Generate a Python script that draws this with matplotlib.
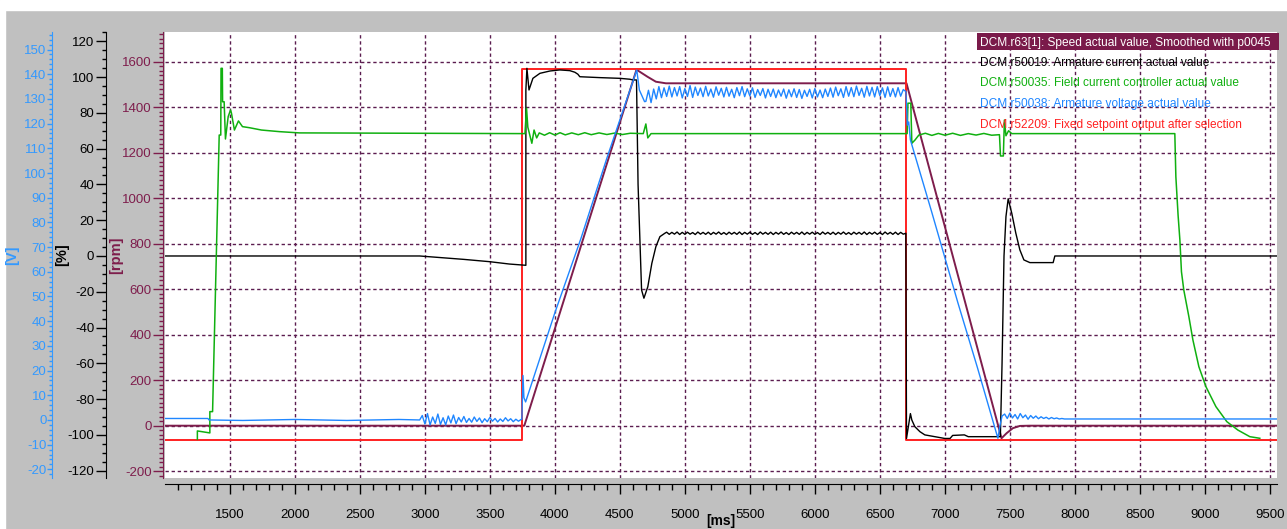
import numpy as np
import matplotlib.pyplot as plt
from matplotlib.ticker import MultipleLocator
from matplotlib.patches import Rectangle

plt.rcParams['font.family'] = ['Liberation Sans', 'DejaVu Sans']
plt.rcParams['axes.unicode_minus'] = False

# ---- trace data, time in ms ----
# DCM.r63[1] speed [rpm]
speed_pts = [(1001, 0), (3765, 0), (4628, 1565), (4712, 1534), (4777, 1512), (4854, 1505),
             (6705, 1505), (7436, -55), (7475, -33), (7523, -11), (7577, -1), (7650, 0), (9555, 0)]

# DCM.r52209 fixed setpoint [rpm scale]
setpoint_pts = [(1001, -61), (3750, -61), (3750, 1567), (6700, 1567), (6700, -61), (9555, -61)]

# DCM.r50035 field current [%]
field_pts = [
    (1250, -102.5), (1250, -97.8), (1346, -98.9), (1346, -87.0), (1367, -87.0),
    (1418, 67.6), (1430, 67.6), (1432, 104.9), (1442, 104.9), (1444, 86.2), (1456, 86.2),
    (1466, 65.4), (1487, 77.9), (1505, 81.6), (1512, 79.9), (1535, 70.4), (1566, 75.5),
    (1597, 72.3), (1651, 71.7), (1743, 70.4), (1882, 69.5), (2035, 68.8), (3770, 68.4),
    (3782, 82.6), (3792, 72.0), (3823, 63.0), (3840, 70.4), (3860, 66.0), (3880, 68.8),
    (3920, 67.5), (3960, 68.9), (4000, 67.6), (4040, 68.9), (4080, 67.7), (4130, 68.8),
    (4180, 67.8), (4230, 68.9), (4280, 67.8), (4340, 68.8), (4400, 67.9), (4460, 68.7),
    (4520, 67.9), (4580, 68.6), (4680, 68.4), (4700, 73.8), (4715, 66.0), (4740, 68.4),
    (6710, 68.4), (6716, 85.4), (6738, 85.4), (6746, 63.0), (6770, 64.8), (6800, 67.6),
    (6850, 68.6), (6900, 67.4), (6950, 68.5), (7000, 67.5), (7060, 68.6), (7120, 67.4),
    (7180, 68.4), (7240, 67.6), (7300, 68.5), (7360, 67.5), (7420, 67.8), (7428, 55.9),
    (7450, 55.9), (7458, 76.0), (7470, 67.2), (7490, 70.0), (7515, 68.4), (8769, 68.4),
    (8777, 44.3), (8794, 22.9), (8808, 8.9), (8820, -8.8), (8838, -19.0), (8877, -33.9),
    (8908, -46.9), (8954, -61.9), (9008, -73.0), (9085, -84.2), (9169, -92.6),
    (9254, -97.3), (9346, -101.0), (9423, -101.9),
]

# DCM.r50019 armature current [%]
current_pre = [
    (1001, 0.0), (2960, 0.0), (3100, -0.8), (3300, -1.9), (3500, -3.2), (3650, -4.5),
    (3777, -5.2), (3777, 92.8), (3785, 104.9), (3801, 92.8), (3831, 99.3), (3885, 102.1),
    (3962, 103.4), (4038, 104.0), (4115, 103.6), (4154, 102.7), (4177, 101.6), (4192, 100.2),
    (4346, 99.7), (4500, 99.3), (4577, 98.8), (4600, 98.4), (4628, 98.4), (4640, 40.0),
    (4667, -19.0), (4685, -23.6), (4715, -17.2), (4746, -4.1), (4777, 5.2), (4808, 10.8),
    (4846, 12.7),
]
ripple_t0 = 4860
current_ripple = [
    13.3, 12.1, 13.2, 12.2, 13.4, 12.0, 13.2, 12.1, 13.3, 12.2,
    13.1, 12.0, 13.4, 12.2, 13.2, 12.1, 13.3, 12.0, 13.2, 12.2,
    13.4, 12.1, 13.1, 12.0, 13.3, 12.2, 13.2, 12.1, 13.4, 12.0,
    13.2, 12.2, 13.3, 12.1, 13.1, 12.0, 13.4, 12.2, 13.2, 12.1,
    13.3, 12.0, 13.2, 12.2, 13.4, 12.1, 13.1, 12.0, 13.3, 12.2,
    13.2, 12.1, 13.4, 12.0, 13.2, 12.2, 13.3, 12.1, 13.1, 12.0,
    13.4, 12.2, 13.2, 12.1, 13.3, 12.0, 13.2, 12.2, 13.4, 12.1,
    13.1, 12.0, 13.3, 12.2, 13.2, 12.1, 13.4, 12.0, 13.2, 12.2,
    13.3, 12.1, 13.1, 12.0, 13.4, 12.2, 13.2, 12.1, 13.3, 12.0,
    13.2, 12.2,
]
current_post = [
    (6700, 12.7), (6705, -102.0), (6735, -88.1), (6746, -91.7), (6769, -95.4), (6808, -98.2),
    (6846, -100.0), (6923, -101.0), (7000, -102.0), (7040, -102.0), (7060, -100.3),
    (7150, -100.0), (7180, -101.0), (7427, -101.0), (7440, -60.0), (7455, 0.0), (7470, 22.0),
    (7487, 32.0), (7515, 23.8), (7546, 12.7), (7577, 3.4), (7608, -2.2), (7654, -3.7),
    (7833, -3.7), (7846, 0.0), (9555, 0.0),
]

# DCM.r50038 armature voltage [V]
voltage_pre = [(1001, 0.6), (1331, 0.6), (1340, 0.0), (1600, -0.2), (2000, 0.2),
               (2400, -0.2), (2800, 0.2), (2940, 0.0)]
noise1_t0 = 2960
voltage_noise1 = [
    0.0, 1.8, -1.6, 2.6, -2.0, 1.2, -1.4, 2.4, -1.8, 0.9,
    -2.0, 1.6, -1.2, 2.0, -1.5, 1.0, -0.8, 1.4, -1.0, 0.6,
    -0.9, 1.2, -0.6, 0.8, -1.1, 0.5, -0.7, 1.0, -0.5, 0.6,
    -0.8, 0.4, -0.6, 0.9, -0.4, 0.5, -0.7, 0.3, -0.5, 0.2,
]
voltage_ramp = [(3746, 0.3), (3755, 18.0), (3762, 9.0), (3775, 7.3), (4000, 43.4),
                (4200, 73.4), (4400, 106.0), (4630, 141.7), (4650, 133.6), (4690, 128.9)]
noise2_t0 = 4700
voltage_noise2 = [
    129.0, 133.5, 128.5, 134.0, 130.0, 135.0, 130.5, 134.5, 131.0, 135.2,
    130.8, 134.6, 131.2, 135.0, 130.4, 134.2, 131.0, 135.4, 130.6, 134.8,
    131.4, 134.4, 130.9, 135.1, 131.2, 134.0, 130.7, 134.9, 131.5, 134.3,
    130.8, 134.7, 131.1, 133.9, 130.5, 134.6, 131.3, 135.0, 130.9, 134.1,
    131.2, 134.5, 130.6, 133.8, 131.4, 134.2, 130.4, 133.9, 131.0, 134.0,
    130.5, 133.6, 131.1, 134.0, 130.3, 133.7, 130.9, 134.1, 130.6, 133.8,
    130.2, 133.5, 131.0, 133.9, 130.4, 134.2, 130.8, 133.6, 130.5, 134.0,
    131.0, 134.4, 130.7, 134.8, 131.3, 134.1, 130.6, 135.0, 131.1, 134.6,
    130.9, 135.2, 131.4, 134.3, 130.7, 135.1, 131.2, 134.7, 130.8, 135.0,
    131.3, 134.5, 130.6, 134.9, 131.0, 134.2, 130.8, 134.6, 131.1, 133.8,
]
voltage_down = [(6700, 133.0), (6705, 128.0), (6712, 119.4), (6722, 120.7), (6735, 113.4),
                (6900, 84.0), (7100, 47.5), (7250, 21.3), (7408, -7.4), (7425, -2.0)]
noise3_t0 = 7440
voltage_noise3 = [1.6, 2.4, 0.6, 2.8, 0.8, 2.2, 0.4, 2.6, 0.9, 2.0, 0.3, 1.8,
                  0.7, 1.6, 0.5, 1.3, 0.6, 1.1, 0.4, 1.0, 0.5, 0.8, 0.4, 0.6]
voltage_end = [(7920, 0.4), (9555, 0.4)]

legend_rows = [
    ("DCM.r63[1]: Speed actual value, Smoothed with p0045", 'white'),
    ("DCM.r50019: Armature current actual value", 'black'),
    ("DCM.r50035: Field current controller actual value", '#10b010'),
    ("DCM.r50038: Armature voltage actual value", '#1f86ff'),
    ("DCM.r52209: Fixed setpoint output after selection", '#ff2020'),
]

MAROON = '#7e1d4c'
BLUE = '#1f86ff'
BLUE_AX = '#3399ff'
GREEN = '#10b010'
RED = '#ff2020'
GRID = '#5b1c4f'


def unzip(pts):
    t, v = zip(*pts)
    return np.array(t, float), np.array(v, float)


def sampled(t0, vals):
    # trace samples every 20 ms
    return np.arange(len(vals)) * 20.0 + t0, np.array(vals, float)


def join(*parts):
    return np.concatenate([p[0] for p in parts]), np.concatenate([p[1] for p in parts])


speed_t, speed_v = unzip(speed_pts)
set_t, set_v = unzip(setpoint_pts)
field_t, field_v = unzip(field_pts)
cur_t, cur_v = join(unzip(current_pre), sampled(ripple_t0, current_ripple), unzip(current_post))
volt_t, volt_v = join(unzip(voltage_pre), sampled(noise1_t0, voltage_noise1), unzip(voltage_ramp),
                      sampled(noise2_t0, voltage_noise2), unzip(voltage_down),
                      sampled(noise3_t0, voltage_noise3), unzip(voltage_end))

W, H = 1287, 529
fig = plt.figure(figsize=(W / 100, H / 100), dpi=100, facecolor='#c0c0c0')
fig.add_artist(Rectangle((0, 1 - 10 / H), 1, 10 / H, transform=fig.transFigure,
                         color='white', zorder=0))
fig.add_artist(Rectangle((0, 0), 5 / W, 1, transform=fig.transFigure, color='white', zorder=0))

left, right, top, bottom = 165, 1277, 32, 478
ax = fig.add_axes([left / W, 1 - bottom / H, (right - left) / W, (bottom - top) / H])
ax.set_facecolor('white')
ax_pct = ax.twinx()
ax_v = ax.twinx()

ax.set_xlim(1001, 9555)
ax.set_ylim(-229.9, 1730.5)
ax_pct.set_ylim(-124.1, 125.2)
ax_v.set_ylim(-23.5, 157.1)

# traces
ax.plot(speed_t, speed_v, color=MAROON, lw=1.4)
ax.plot(set_t, set_v, color=RED, lw=1.4)
ax_pct.plot(cur_t, cur_v, color='black', lw=1.0)
ax_pct.plot(field_t, field_v, color=GREEN, lw=1.1)
ax_v.plot(volt_t, volt_v, color=BLUE, lw=1.0)

# grid on rpm / time
ax.xaxis.set_major_locator(MultipleLocator(500))
ax.xaxis.set_minor_locator(MultipleLocator(100))
ax.grid(True, which='major', color=GRID, linestyle=(0, (2.4, 2.0)), lw=1.0)

for s in ['top', 'right']:
    ax.spines[s].set_visible(False)
ax.spines['bottom'].set_position(('outward', 4.5))
ax.spines['left'].set_position(('outward', 1.4))
ax.spines['left'].set_color(MAROON)
ax.tick_params(axis='x', which='major', length=7.5, width=1, pad=10, labelsize=9.5)
ax.tick_params(axis='x', which='minor', length=4, width=1)

# y axes on the left
axes_cfg = [
    (ax, MAROON, 200, 20, 7.5, 3.0, 0.8, None),
    (ax_pct, 'black', 20, 5, 7.5, 3.0, 1.0, 42.5),
    (ax_v, BLUE_AX, 10, 2, 3.6, 2.0, 0.4, 81.4),
]
for a, col, maj, mnr, lmaj, lmin, pad, off in axes_cfg:
    a.yaxis.set_major_locator(MultipleLocator(maj))
    a.yaxis.set_minor_locator(MultipleLocator(mnr))
    if a is not ax:
        a.yaxis.tick_left()
        a.yaxis.set_label_position('left')
        for s in ['top', 'right', 'bottom']:
            a.spines[s].set_visible(False)
        a.spines['left'].set_position(('outward', off))
        a.spines['left'].set_color(col)
        a.patch.set_visible(False)
    a.tick_params(axis='y', which='major', length=lmaj, width=1, color=col,
                  labelcolor=col, labelsize=9.5, pad=pad)
    a.tick_params(axis='y', which='minor', length=lmin, width=1, color=col)

# axis unit labels
for x, txt, col in [(12, '[V]', BLUE_AX), (62.5, '[%]', 'black'), (116, '[rpm]', MAROON)]:
    fig.text(x / W, 1 - 255 / H, txt, color=col, rotation=90, ha='center', va='center',
             fontsize=10.5, fontweight='bold')
fig.text(721 / W, 1 - 528 / H, '[ms]', color='black', ha='center', va='bottom',
         fontsize=10, fontweight='bold')

# legend-like labels, top right
ax_v.add_patch(Rectangle((0.7302, 0.9596), 0.2716, 0.0382, transform=ax_v.transAxes,
                         facecolor='#7a1a4a', edgecolor='none', clip_on=False, zorder=4))
row_y = [0.9758, 0.9312, 0.8861, 0.8386, 0.7922]
for (label, col), y in zip(legend_rows, row_y):
    ax_v.text(0.7325, y, label, color=col, transform=ax_v.transAxes, ha='left', va='center',
              fontsize=8.6, zorder=5)

fig.savefig('out.png', dpi=100, facecolor=fig.get_facecolor())
